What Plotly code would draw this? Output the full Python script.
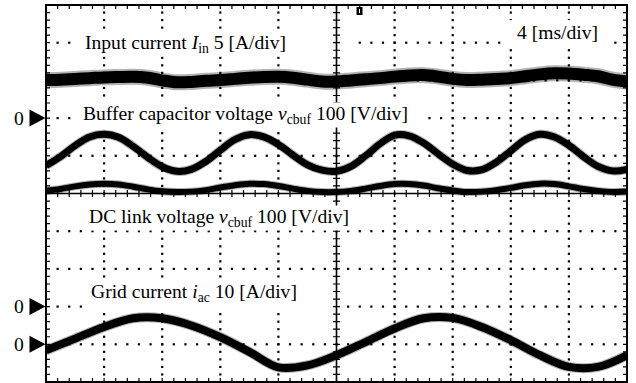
import plotly.graph_objects as go

# ---------------- data ----------------
time_ms_fast = list(range(0, 41))        # 1 ms steps (100 Hz traces)
time_ms_slow = list(range(0, 41, 2))     # 2 ms steps (50 Hz grid current)

input_current_A = [5.04, 5.10, 5.20, 5.30, 5.40, 5.45, 5.48, 5.35, 5.00, 4.75,
                   4.80, 4.95, 5.05, 5.20, 5.35, 5.45, 5.48, 5.35, 5.10, 4.85,
                   4.85, 5.00, 5.15, 5.30, 5.50, 5.65, 5.70, 5.50, 5.20, 5.05,
                   5.10, 5.20, 5.30, 5.55, 5.80, 5.95, 5.90, 5.75, 5.55, 5.10, 4.85]

buffer_voltage_V = [374, 398, 427, 450, 457, 449, 425, 396, 371, 359,
                    364, 385, 415, 443, 456, 450, 430, 402, 376, 362,
                    359, 372, 400, 432, 455, 453, 434, 405, 378, 361,
                    363, 383, 413, 443, 457, 450, 428, 398, 372, 360, 364]

dc_link_voltage_V = [307, 312, 319, 324, 326, 324, 318, 311, 306, 304,
                     305, 309, 316, 322, 326, 325, 320, 313, 307, 304,
                     304, 307, 313, 320, 325, 325, 321, 314, 308, 304,
                     305, 309, 315, 322, 326, 325, 319, 312, 307, 304, 305]

grid_current_A = [-1.6, 1.5, 4.6, 6.9, 6.9, 5.0, 1.9, -2.0, -6.1, -5.6,
                  -2.9, 0.6, 4.2, 6.9, 7.0, 4.6, 1.1, -2.9, -6.0, -6.0, -2.9]

# oscilloscope settings: units per division and zero position (divisions)
time_per_div_ms = 4
input_scale, input_zero = 5, 2
buffer_scale, buffer_zero = 100, -3
dclink_scale, dclink_zero = 100, -3
grid_scale, grid_zero = 10, -4
zero_markers = [2, -3, -4]

# ---------------- geometry helpers ----------------
W, H = 636, 383
L, R, T, B = 46, 9, 5, 1
PW, PH = W - L - R, H - T - B
PX_DIV_X, PX_DIV_Y = PW / 10, PH / 10

def X(px):
    return (px - L) / PX_DIV_X

def Y(py):
    return 5 - (py - T) / PX_DIV_Y

def PXp(px):
    return (px - L) / PW

def PYp(py):
    return (H - B - py) / PH

fig = go.Figure()

# dotted graticule
dx, dy = [], []
for k in range(1, 10):
    if k == 5:
        continue
    for j in range(1, 50):
        dx.append(k); dy.append(-5 + j * 0.2)
for k in range(-4, 5):
    if k == 0:
        continue
    for j in range(1, 50):
        dx.append(j * 0.2); dy.append(k)
fig.add_trace(go.Scatter(x=dx, y=dy, mode="markers",
                         marker=dict(symbol="square", size=2.2, color="black", line=dict(width=0)),
                         hoverinfo="skip"))

def add_wave(times, values, scale, zero, core, halo):
    xs = [t / time_per_div_ms for t in times]
    ys = [zero + v / scale for v in values]
    fig.add_trace(go.Scatter(x=xs, y=ys, mode="lines",
                             line=dict(color="rgba(0,0,0,0.3)", width=halo, shape="spline", smoothing=1),
                             hoverinfo="skip"))
    fig.add_trace(go.Scatter(x=xs, y=ys, mode="lines",
                             line=dict(color="black", width=core, shape="spline", smoothing=1),
                             hoverinfo="skip"))

add_wave(time_ms_fast, input_current_A, input_scale, input_zero, 12, 16)
add_wave(time_ms_fast, buffer_voltage_V, buffer_scale, buffer_zero, 7, 9)
add_wave(time_ms_fast, dc_link_voltage_V, dclink_scale, dclink_zero, 6, 8)
add_wave(time_ms_slow, grid_current_A, grid_scale, grid_zero, 8, 10)

shapes = []
# white boxes behind labels
for (x0, x1, y0, y1) in [(78, 357, 33, 55), (505, 613, 20, 46), (78, 425, 98, 125),
                         (80, 355, 196, 228), (85, 340, 283, 308)]:
    shapes.append(dict(type="rect", xref="x", yref="y", x0=X(x0), x1=X(x1), y0=Y(y1), y1=Y(y0),
                       fillcolor="white", line=dict(width=0), layer="above"))

# ticks on border and centre axes
tlx, tly = 4 / PX_DIV_X, 4 / PX_DIV_Y
cx, cy = 3.5 / PX_DIV_X, 3.5 / PX_DIV_Y
parts = []
def seg(a, b, c, d):
    return f"M{a:.4f},{b:.4f}L{c:.4f},{d:.4f}"
for j in range(1, 50):
    x = j * 0.2
    parts.append(seg(x, -5, x, -5 + tly))
    parts.append(seg(x, 5, x, 5 - tly))
    parts.append(seg(x, -cy, x, cy))
    y = -5 + j * 0.2
    parts.append(seg(0, y, tlx, y))
    parts.append(seg(10, y, 10 - tlx, y))
    parts.append(seg(5 - cx, y, 5 + cx, y))
shapes.append(dict(type="path", xref="x", yref="y", path="".join(parts),
                   line=dict(color="black", width=1.2), layer="above"))
shapes.append(dict(type="line", xref="x", yref="y", x0=5, x1=5, y0=-5, y1=5,
                   line=dict(color="black", width=1.6), layer="above"))
shapes.append(dict(type="line", xref="x", yref="y", x0=0, x1=10, y0=0, y1=0,
                   line=dict(color="black", width=1.6), layer="above"))
# frame
shapes.append(dict(type="rect", xref="paper", yref="paper", x0=0, x1=1, y0=0, y1=1,
                   line=dict(color="black", width=2), layer="above"))
# trigger marker
shapes.append(dict(type="rect", xref="paper", yref="paper", x0=PXp(356.5), x1=PXp(362.5),
                   y0=PYp(15), y1=PYp(7), fillcolor="black", line=dict(width=0), layer="above"))
shapes.append(dict(type="line", xref="paper", yref="paper", x0=PXp(359.5), x1=PXp(359.5),
                   y0=PYp(13), y1=PYp(9), line=dict(color="white", width=1), layer="above"))
# zero markers (triangles)
for z in zero_markers:
    yc = (z + 5) / 10
    hh = 8.5 / PH
    shapes.append(dict(type="path", xref="paper", yref="paper",
                       path=f"M{PXp(29.5)},{yc + hh}L{PXp(45.5)},{yc}L{PXp(29.5)},{yc - hh}Z",
                       fillcolor="black", line=dict(width=0), layer="above"))

FONT = dict(family="Liberation Serif, Times New Roman, serif", size=19.6, color="black")
ann = []
labels = [
    ("Input current <i>I</i><sub>in</sub> 5 [A/div]", 84, 44),
    ("4 [ms/div]", 516, 32),
    ("Buffer capacitor voltage <i>v</i><sub>cbuf</sub> 100 [V/div]", 82, 115),
    ("DC link voltage <i>v</i><sub>cbuf</sub> 100 [V/div]", 88, 218),
    ("Grid current <i>i</i><sub>ac</sub> 10 [A/div]", 90, 293),
]
for text, px, py in labels:
    ann.append(dict(text=text, x=X(px), y=Y(py), xref="x", yref="y", xanchor="left",
                    yanchor="middle", showarrow=False, font=FONT, borderpad=0,
                    bgcolor="white"))
for z in zero_markers:
    ann.append(dict(text="0", x=PXp(18.5), y=z, xref="paper", yref="y", xanchor="center",
                    yanchor="middle", showarrow=False, font=FONT, borderpad=0))

fig.update_layout(
    width=W, height=H, margin=dict(l=L, r=R, t=T, b=B),
    paper_bgcolor="white", plot_bgcolor="white", showlegend=False,
    xaxis=dict(range=[0, 10], visible=False, fixedrange=True),
    yaxis=dict(range=[-5, 5], visible=False, fixedrange=True),
    shapes=shapes, annotations=ann,
)
fig.write_html("out.html")
